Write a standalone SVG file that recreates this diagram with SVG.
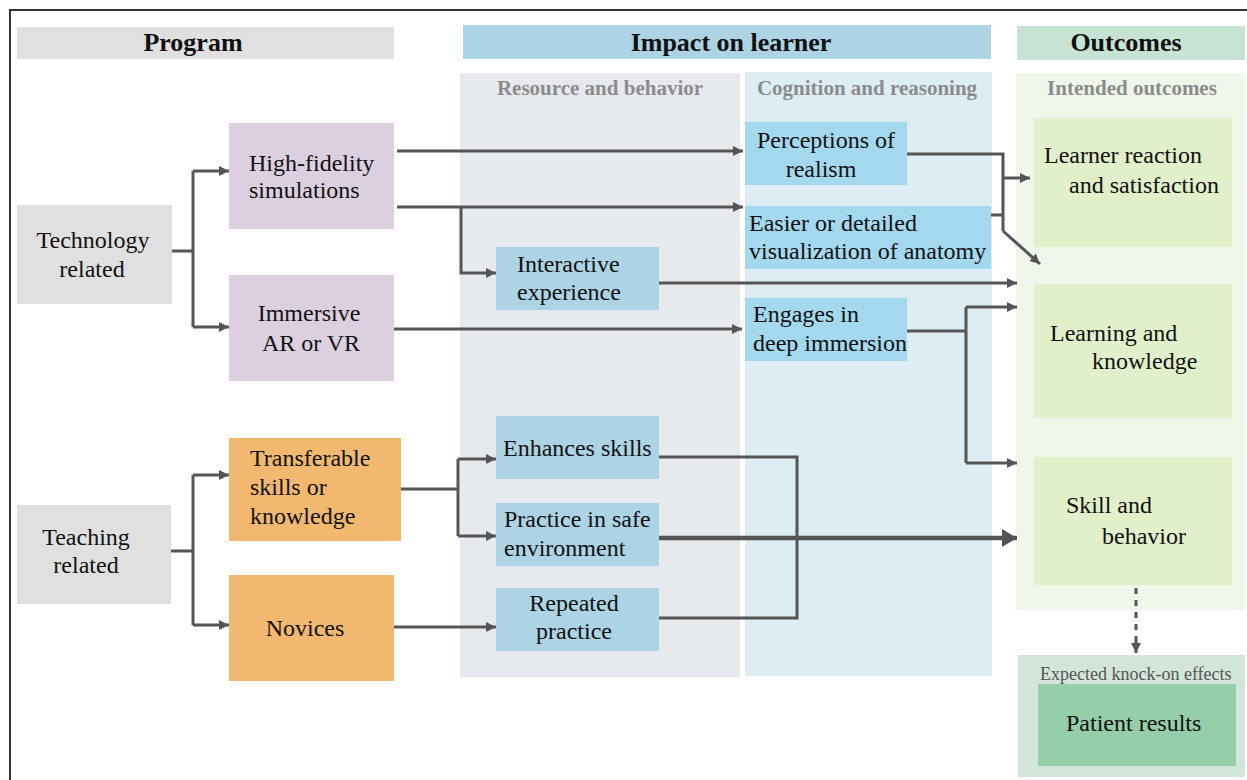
<svg xmlns="http://www.w3.org/2000/svg" width="1247" height="780" viewBox="0 0 1247 780">
<style>
text{font-family:"Liberation Serif","Times New Roman",serif;fill:#111;}
.t{font-size:24px;}
.h{font-size:26px;font-weight:bold;}
.sh{font-size:21px;font-weight:bold;fill:#8c8c8c;}
.c{text-anchor:middle;}
.ln{fill:none;stroke:#555;stroke-width:3;}
.gray{fill:#e0e0e0;}
.lav{fill:#dccfe0;}
.org{fill:#f3b870;}
.rb{fill:#acd4e5;}
.cg{fill:#a3d8ef;}
.oc{fill:#e2efcb;}
</style>
<defs>
<marker id="ah" markerUnits="userSpaceOnUse" markerWidth="11" markerHeight="11" refX="10" refY="5" orient="auto">
<path d="M0,0 L10,5 L0,10 z" fill="#555"/>
</marker>
<marker id="ahb" markerUnits="userSpaceOnUse" markerWidth="16" markerHeight="18" refX="15" refY="9" orient="auto">
<path d="M0,0 L15,9 L0,18 z" fill="#555"/>
</marker>
</defs>
<rect width="1247" height="780" fill="#fff"/>
<path d="M10,780 V10 H1247" fill="none" stroke="#333" stroke-width="2"/>

<g id="headers">
<rect x="17" y="27" width="377" height="32" class="gray"/>
<text x="193" y="51" class="h c">Program</text>
<rect x="463" y="25" width="528" height="34" fill="#acd4e5"/>
<text x="731" y="51" class="h c">Impact on learner</text>
<rect x="1017" y="26" width="228" height="34" fill="#c7e3d3"/>
<text x="1126" y="51" class="h c">Outcomes</text>
</g>

<g id="columns">
<rect x="460" y="73" width="280" height="604" fill="#e6eaee"/>
<text x="600" y="95" class="sh c">Resource and behavior</text>
<rect x="745" y="72" width="247" height="604" fill="#ddedf4"/>
<text x="867" y="95" class="sh c">Cognition and reasoning</text>
<rect x="1016" y="73" width="229" height="537" fill="#eff6ea"/>
<text x="1132" y="95" class="sh c">Intended outcomes</text>
</g>

<g id="n-tech"><rect x="17" y="205" width="155" height="99" class="gray"/>
<text x="93" y="248" class="t c">Technology</text><text x="92" y="277" class="t c">related</text></g>
<g id="n-teach"><rect x="17" y="505" width="154" height="99" class="gray"/>
<text x="86" y="545" class="t c">Teaching</text><text x="86" y="573" class="t c">related</text></g>
<g id="n-hifi"><rect x="229" y="123" width="165" height="106" class="lav"/>
<text x="249" y="171" class="t">High-fidelity</text><text x="249" y="198" class="t">simulations</text></g>
<g id="n-immersive"><rect x="229" y="275" width="165" height="106" class="lav"/>
<text x="309" y="321" class="t c">Immersive</text><text x="311" y="351" class="t c">AR or VR</text></g>
<g id="n-transfer"><rect x="229" y="438" width="172" height="103" class="org"/>
<text x="250" y="466" class="t">Transferable</text><text x="250" y="495" class="t">skills or</text><text x="250" y="524" class="t">knowledge</text></g>
<g id="n-novices"><rect x="229" y="575" width="165" height="106" class="org"/>
<text x="305" y="636" class="t c">Novices</text></g>

<g id="n-interactive"><rect x="496" y="247" width="163" height="63" class="rb"/>
<text x="517" y="272" class="t">Interactive</text><text x="517" y="300" class="t">experience</text></g>
<g id="n-enhances"><rect x="496" y="416" width="163" height="63" class="rb"/>
<text x="503" y="456" class="t">Enhances skills</text></g>
<g id="n-practice"><rect x="496" y="503" width="163" height="63" class="rb"/>
<text x="504" y="527" class="t">Practice in safe</text><text x="504" y="556" class="t">environment</text></g>
<g id="n-repeated"><rect x="496" y="588" width="163" height="63" class="rb"/>
<text x="574" y="611" class="t c">Repeated</text><text x="574" y="639" class="t c">practice</text></g>

<g id="n-perceptions"><rect x="745" y="122" width="162" height="63" class="cg"/>
<text x="826" y="148" class="t c">Perceptions of</text><text x="821" y="177" class="t c">realism</text></g>
<g id="n-easier"><rect x="745" y="206" width="246" height="63" class="cg"/>
<text x="749" y="231" class="t">Easier or detailed</text><text x="749" y="259" class="t">visualization of anatomy</text></g>
<g id="n-engages"><rect x="745" y="298" width="162" height="63" class="cg"/>
<text x="753" y="322" class="t">Engages in</text><text x="753" y="351" class="t">deep immersion</text></g>

<g id="n-reaction"><rect x="1034" y="118" width="198" height="129" class="oc"/>
<text x="1044" y="163" class="t">Learner reaction</text><text x="1069" y="193" class="t">and satisfaction</text></g>
<g id="n-learning"><rect x="1034" y="284" width="198" height="134" class="oc"/>
<text x="1050" y="341" class="t">Learning and</text><text x="1092" y="369" class="t">knowledge</text></g>
<g id="n-skill"><rect x="1034" y="457" width="198" height="128" class="oc"/>
<text x="1066" y="513" class="t">Skill and</text><text x="1102" y="544" class="t">behavior</text></g>

<g id="n-knockon"><rect x="1018" y="655" width="227" height="122" fill="#d3e5d8"/>
<text x="1040" y="680" style="font-size:18px;fill:#555">Expected knock-on effects</text></g>
<g id="n-patient"><rect x="1038" y="684" width="198" height="82" fill="#96cea9"/>
<text x="1066" y="731" class="t">Patient results</text></g>

<g id="connectors">
<path class="ln" d="M172,251 H193 M193,171 V327"/>
<path class="ln" d="M193,171 H229" marker-end="url(#ah)"/>
<path class="ln" d="M193,327 H229" marker-end="url(#ah)"/>
<path class="ln" d="M171,551 H193 M193,475 V625"/>
<path class="ln" d="M193,475 H229" marker-end="url(#ah)"/>
<path class="ln" d="M193,625 H229" marker-end="url(#ah)"/>
<path class="ln" d="M397,151 H743" marker-end="url(#ah)"/>
<path class="ln" d="M397,207 H743" marker-end="url(#ah)"/>
<path class="ln" d="M461,207 V273 H496" marker-end="url(#ah)"/>
<path class="ln" d="M659,283 H1017" marker-end="url(#ah)"/>
<path class="ln" d="M394,329 H742" marker-end="url(#ah)"/>
<path class="ln" d="M907,154 H1003 V231 M991,215 H1003"/>
<path class="ln" d="M1003,178 H1030" marker-end="url(#ah)"/>
<path class="ln" d="M1003,231 L1040,264" marker-end="url(#ah)"/>
<path class="ln" d="M907,331 H966 M966,307 V463"/>
<path class="ln" d="M966,307 H1017" marker-end="url(#ah)"/>
<path class="ln" d="M966,463 H1017" marker-end="url(#ah)"/>
<path class="ln" d="M401,489 H458 M458,459 V536"/>
<path class="ln" d="M458,459 H496" marker-end="url(#ah)"/>
<path class="ln" d="M458,536 H496" marker-end="url(#ah)"/>
<path class="ln" d="M394,627 H496" marker-end="url(#ah)"/>
<path class="ln" d="M659,457 H797 V618 H659"/>
<path class="ln" d="M659,538 H1017" style="stroke-width:4.5" marker-end="url(#ahb)"/>
<path class="ln" d="M1136,588 V642" style="stroke-dasharray:6,6"/>
<path class="ln" d="M1136,642 V653" marker-end="url(#ah)"/>
</g>
</svg>
